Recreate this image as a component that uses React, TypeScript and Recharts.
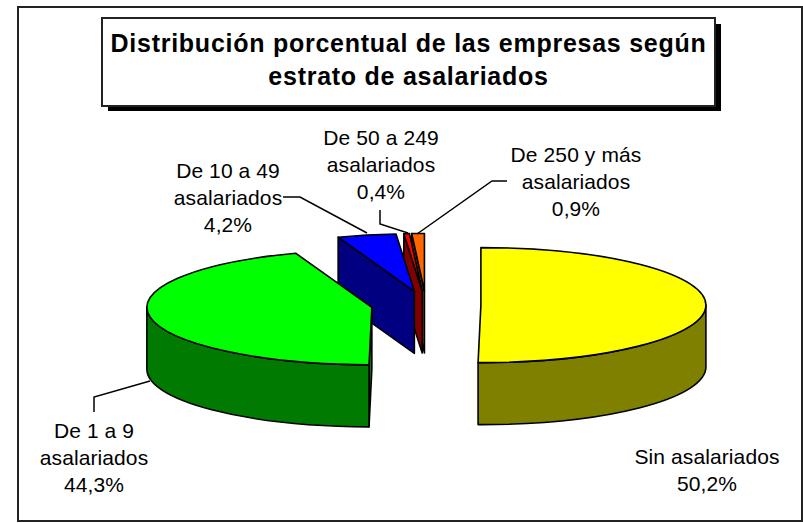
import { PieChart, Pie } from 'recharts'

// listed back to front: the pie runs counter-clockwise so the front slices paint last
const categories = ['De 250 y más asalariados', 'De 50 a 249 asalariados', 'De 10 a 49 asalariados', 'De 1 a 9 asalariados', 'Sin asalariados']
const shares = [0.9, 0.4, 4.2, 44.3, 50.2]
const labelRows = [
  ['De 250 y más', 'asalariados'],
  ['De 50 a 249', 'asalariados'],
  ['De 10 a 49', 'asalariados'],
  ['De 1 a 9', 'asalariados'],
  ['Sin asalariados'],
]

const topColors = ['#ff6600', '#ff0000', '#0000ff', '#00ff00', '#ffff00']
const sideColors = ['#803300', '#800000', '#000080', '#007a00', '#808000']

// label anchor (centre x, first baseline y) and leader line per slice
const labelPos = [
  { x: 576, y: 162, line: '507,181 492,181 417,234' },
  { x: 381, y: 145, line: '380,210 380,224 408,233' },
  { x: 228, y: 178, line: '283,197 300,197 367,233' },
  { x: 94, y: 438, line: '94,412 94,397 150,381' },
  { x: 707, y: 464, line: '' },
]

const data = categories.map((name, i) => ({ name, value: shares[i], top: topColors[i], side: sideColors[i] }))

const TILT = 0.2556
const DEPTH = 62
const EXPLODE = 0.244
const rad = (d: number) => (d * Math.PI) / 180

function Slice(props: any) {
  const { cx, cy, outerRadius, startAngle, endAngle, payload } = props
  const rx = outerRadius
  const ry = outerRadius * TILT
  // angles clockwise from 12 o'clock
  const t1 = 90 - endAngle + 360
  const t2 = 90 - startAngle + 360
  const from = t1 % 360
  const to = from + (t2 - t1)
  const mid = rad((from + to) / 2)
  const ox = cx + EXPLODE * rx * Math.sin(mid)
  const oy = cy - EXPLODE * ry * Math.cos(mid)
  const pt = (t: number) => [ox + rx * Math.sin(rad(t)), oy - ry * Math.cos(rad(t))]
  const [ax, ay] = pt(from)
  const [bx, by] = pt(to)
  const large = to - from > 180 ? 1 : 0
  const common = { stroke: '#000', strokeWidth: 1.6, strokeLinejoin: 'round' as const }

  const faces = []
  if (Math.sin(rad(from)) < 0) {
    faces.push(<path key="f1" d={`M${ox},${oy}L${ax},${ay}L${ax},${ay + DEPTH}L${ox},${oy + DEPTH}Z`} fill={payload.side} {...common} />)
  }
  if (Math.sin(rad(to)) > 0) {
    faces.push(<path key="f2" d={`M${ox},${oy}L${bx},${by}L${bx},${by + DEPTH}L${ox},${oy + DEPTH}Z`} fill={payload.side} {...common} />)
  }
  const w1 = Math.max(from, 90)
  const w2 = Math.min(to, 270)
  let wall = null
  if (w2 > w1) {
    const [p1x, p1y] = pt(w1)
    const [p2x, p2y] = pt(w2)
    wall = (
      <path
        d={`M${p1x},${p1y}A${rx},${ry} 0 0 1 ${p2x},${p2y}L${p2x},${p2y + DEPTH}A${rx},${ry} 0 0 0 ${p1x},${p1y + DEPTH}Z`}
        fill={payload.side}
        {...common}
      />
    )
  }
  return (
    <g>
      {faces}
      {wall}
      <path d={`M${ox},${oy}L${ax},${ay}A${rx},${ry} 0 ${large} 1 ${bx},${by}Z`} fill={payload.top} {...common} />
    </g>
  )
}

function SliceLabel(props: any) {
  const { index, value } = props
  const pos = labelPos[index]
  const rows = [...labelRows[index], `${String(value).replace('.', ',')}%`]
  return (
    <g>
      {pos.line && <polyline points={pos.line} fill="none" stroke="#000" strokeWidth={1.5} />}
      <text fontFamily="Liberation Sans" fontSize={21} fill="#000" textAnchor="middle" letterSpacing={0.1}>
        {rows.map((r, i) => (
          <tspan key={i} x={pos.x} y={pos.y + i * 27}>{r}</tspan>
        ))}
      </text>
    </g>
  )
}

export default function App() {
  return (
    <div style={{ position: 'absolute', left: 0, top: 0, width: 803, height: 523, overflow: 'hidden', background: '#fff' }}>
      <div style={{ position: 'absolute', left: 17, top: 6, width: 782, height: 512, border: '2px solid #222' }} />
      <div style={{ position: 'absolute', left: 108, top: 24, width: 613, height: 87, background: '#000' }} />
      <div
        style={{
          position: 'absolute', left: 101, top: 17, width: 611, height: 78, border: '2px solid #222', background: '#fff',
          fontFamily: 'Liberation Sans', fontWeight: 700, fontSize: 25, lineHeight: '33px', letterSpacing: 0.74,
          textAlign: 'center', paddingTop: 8, boxSizing: 'content-box', whiteSpace: 'nowrap',
        }}
      >
        Distribución porcentual de las empresas según
        <br />
        estrato de asalariados
      </div>
      <div style={{ position: 'absolute', left: 0, top: 0 }}>
        <PieChart width={803} height={523} margin={{ top: 0, right: 0, bottom: 0, left: 0 }}>
          <Pie
            data={data}
            dataKey="value"
            nameKey="name"
            cx={426}
            cy={305}
            outerRadius={225}
            startAngle={90}
            endAngle={450}
            shape={Slice}
            label={SliceLabel}
            labelLine={false}
            isAnimationActive={false}
          />
        </PieChart>
      </div>
    </div>
  )
}
